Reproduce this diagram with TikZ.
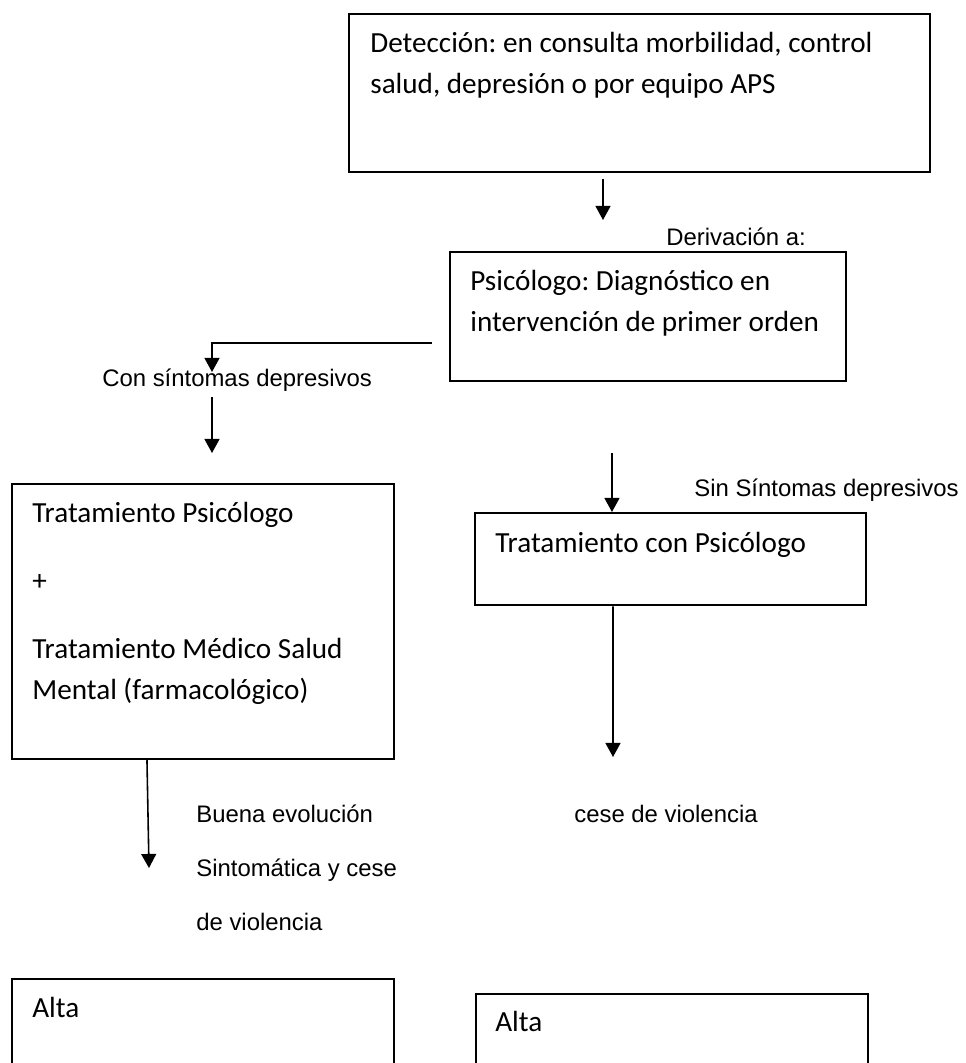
\documentclass[tikz,border=0pt]{standalone}
\usepackage{fontspec}
\setmainfont{Carlito}
\newfontfamily\arialfont{Liberation Sans}
\usetikzlibrary{arrows.meta}
\frenchspacing
\def\boxfont{\fontsize{16.6}{23.3}\selectfont}
\def\labelfont{\arialfont\fontsize{13.6}{16}\selectfont}
\colorlet{box edge}{black}
\colorlet{arrow edge}{black}
\tikzset{box/.style={draw=box edge, line width=1.3pt, anchor=north west, inner sep=0pt},
    boxtext/.style={anchor=base west, inner sep=0pt, font=\boxfont},
    labeltext/.style={anchor=base west, inner sep=0pt, font=\labelfont},
    arrow line/.style={draw=arrow edge, line width=0.9pt, -{Triangle[width=8.5pt,length=8pt]}}}

\begin{document}
\begin{tikzpicture}[x=0.02cm, y=-0.02cm]
 \useasboundingbox (0,0) rectangle (965,1063);
 \clip (0,0) rectangle (965,1063);

 % boxes
 \node[box, minimum width=11.62cm, minimum height=3.16cm] (det) at (348,13) {};
 \node[box, minimum width=7.92cm, minimum height=2.58cm] (psi) at (449,251) {};
 \node[box, minimum width=7.64cm, minimum height=5.50cm] (conS) at (11,483) {};
 \node[box, minimum width=7.82cm, minimum height=1.84cm] (sinS) at (474,512) {};
 \node[box, minimum width=7.64cm, minimum height=2.4cm] (altaA) at (11,978) {};
 \node[box, minimum width=7.84cm, minimum height=2.2cm] (altaB) at (475,993) {};

 \node[boxtext] (det1) at (370,52) {Detección: en consulta morbilidad, control};
 \node[boxtext] (det2) at (370,93) {salud, depresión o por equipo APS};
 \node[boxtext] (psi1) at (470,290) {Psicólogo: Diagnóstico en};
 \node[boxtext] (psi2) at (470,331) {intervención de primer orden};
 \node[boxtext] (conS1) at (32,522) {Tratamiento Psicólogo};
 \node[boxtext] (conS2) at (32,590) {+};
 \node[boxtext] (conS3) at (32,658) {Tratamiento Médico Salud};
 \node[boxtext] (conS4) at (32,699) {Mental (farmacológico)};
 \node[boxtext] (sinS1) at (495,552) {Tratamiento con Psicólogo};
 \node[boxtext] (altaA1) at (32,1017) {Alta};
 \node[boxtext] (altaB1) at (495,1031) {Alta};

 % labels
 \node[labeltext] (deriv) at (666,245) {Derivación a:};
 \node[labeltext] (conLab) at (102,386) {Con síntomas depresivos};
 \node[labeltext] (sinLab) at (694,496) {Sin Síntomas depresivos};
 \node[labeltext] (buena1) at (196,822) {Buena evolución};
 \node[labeltext] (buena2) at (196,876) {Sintomática y cese};
 \node[labeltext] (buena3) at (196,930) {de violencia};
 \node[labeltext] (cese) at (574,822) {cese de violencia};

 % arrows
 \coordinate (a1s) at (603,179);
 \coordinate (a1e) at (603,220);
 \draw[arrow line] (a1s) -- (a1e);

 \coordinate (a2s) at (432,343);
 \coordinate (a2e) at (212,372);
 \draw[arrow line] (a2s) -| (a2e);

 \coordinate (a3s) at (212,397);
 \coordinate (a3e) at (212,453);
 \draw[arrow line] (a3s) -- (a3e);

 \coordinate (a4s) at (612,453);
 \draw[arrow line] (a4s) -- ([xshift=2.76cm]sinS.north west);

 \coordinate (a5e) at (613,757);
 \draw[arrow line] ([xshift=2.78cm]sinS.south west) -- (a5e);

 \coordinate (a6e) at (149,868);
 \draw[arrow line] ([xshift=2.72cm]conS.south west) -- (a6e);

\end{tikzpicture}
\end{document}
